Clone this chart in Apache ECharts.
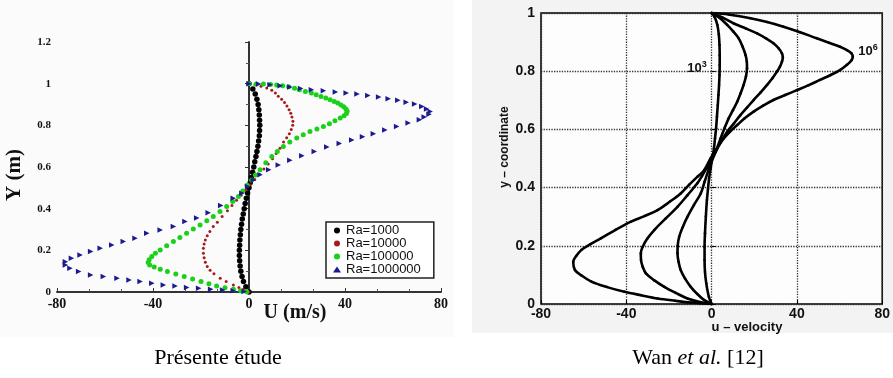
<!DOCTYPE html>
<html><head><meta charset="utf-8">
<script src="https://cdn.jsdelivr.net/npm/echarts@6/dist/echarts.min.js"></script>
<style>html,body{margin:0;padding:0;background:#fff}#c{width:893px;height:378px}</style>
</head><body><div id="c"></div><script>
// ---- Left panel (Présente étude): [U, Y] points ----
const leftNames = ['Ra=1000', 'Ra=10000', 'Ra=100000', 'Ra=1000000'];
const ra1000 = [[0,1.0],[1.6,0.975],[2.6,0.95],[3.3,0.925],[3.8,0.9],[4.1,0.875],[4.3,0.85],[4.4,0.825],[4.5,0.8],[4.4,0.775],[4.3,0.75],[4.0,0.725],[3.7,0.7],[3.3,0.675],[2.9,0.65],[2.4,0.625],[2.0,0.6],[1.5,0.575],[1.0,0.55],[0.5,0.525],[0,0.5],[-0.6,0.475],[-1.1,0.45],[-1.6,0.425],[-2.0,0.4],[-2.4,0.375],[-2.8,0.35],[-3.1,0.325],[-3.4,0.3],[-3.6,0.275],[-3.8,0.25],[-3.9,0.225],[-4.0,0.2],[-4.0,0.175],[-3.9,0.15],[-3.7,0.125],[-3.4,0.1],[-2.9,0.075],[-2.3,0.05],[-1.3,0.025],[0,0]];
const ra10000 = [[0,1.0],[2.5,0.995],[5,0.988],[7.4,0.979],[9.5,0.968],[11,0.955],[12.2,0.94],[13.6,0.925],[14.8,0.91],[15.8,0.893],[16.7,0.875],[17.4,0.858],[17.9,0.84],[18.3,0.82],[18.2,0.8],[17.6,0.78],[16.8,0.76],[15.7,0.74],[14.4,0.72],[12.9,0.69],[11.3,0.665],[9.8,0.64],[8.0,0.615],[6.2,0.59],[4.3,0.565],[2.4,0.54],[0.5,0.515],[-1.4,0.49],[-3.3,0.465],[-5.2,0.44],[-7.1,0.415],[-9.0,0.39],[-11.2,0.362],[-13.2,0.335],[-14.9,0.314],[-16.3,0.29],[-17.4,0.27],[-18.2,0.25],[-18.7,0.23],[-19.0,0.21],[-19.0,0.186],[-18.7,0.165],[-18.2,0.143],[-17.4,0.122],[-16.2,0.105],[-14.6,0.088],[-12,0.066],[-9.5,0.05],[-6.5,0.034],[-4.2,0.022],[-2.4,0.013],[-1,0.005],[0,0]];
const ra100000 = [[0,1.0],[3,0.999],[6,0.998],[9,0.996],[11.5,0.994],[14,0.99],[16.5,0.985],[19,0.978],[21,0.971],[23.5,0.963],[26,0.955],[28,0.947],[30,0.939],[32,0.931],[33.8,0.923],[35.5,0.915],[37,0.907],[38.3,0.898],[39.5,0.889],[40.4,0.879],[40.9,0.868],[40.6,0.857],[39.6,0.846],[38,0.835],[35.8,0.822],[33.5,0.808],[31,0.795],[28.3,0.783],[25.4,0.771],[22.6,0.755],[19.9,0.739],[17,0.72],[14.3,0.699],[11.8,0.675],[9.5,0.65],[7,0.62],[4.6,0.587],[2.7,0.562],[1.1,0.538],[-0.8,0.513],[-2.6,0.485],[-4.4,0.458],[-6.8,0.434],[-9.3,0.41],[-12.1,0.386],[-14.9,0.362],[-17.6,0.342],[-20.4,0.322],[-23.2,0.302],[-26,0.282],[-28.8,0.262],[-31.5,0.242],[-34.3,0.222],[-37,0.202],[-39,0.186],[-40.5,0.17],[-41.6,0.155],[-42,0.142],[-41.4,0.13],[-39.5,0.12],[-37,0.109],[-34,0.098],[-30.5,0.086],[-27,0.074],[-23.5,0.062],[-20,0.05],[-16.7,0.04],[-13.5,0.029],[-10,0.02],[-6.5,0.013],[-3.5,0.006],[-1,0.001]];
const ra1000000 = [[0,1.0],[4,0.998],[8.75,0.995],[13,0.99],[17,0.984],[21.5,0.977],[26,0.971],[31,0.966],[36,0.96],[40.5,0.955],[45,0.95],[49.5,0.943],[54,0.936],[58,0.928],[62,0.92],[65.5,0.911],[69,0.902],[72,0.891],[74,0.878],[75.5,0.866],[75,0.853],[73,0.84],[71,0.827],[66.3,0.811],[61.5,0.795],[56.6,0.778],[51.8,0.76],[47.3,0.745],[42.8,0.73],[37.6,0.713],[32.4,0.696],[27.2,0.675],[22,0.654],[17,0.632],[12.2,0.61],[8.2,0.587],[4.6,0.563],[1.8,0.538],[-0.6,0.506],[-3,0.474],[-6.6,0.45],[-11.8,0.415],[-17,0.38],[-21.8,0.355],[-26.7,0.338],[-31.5,0.315],[-37,0.298],[-42.6,0.282],[-47.5,0.258],[-52.4,0.242],[-57.2,0.226],[-62,0.21],[-66,0.194],[-70.4,0.178],[-74,0.162],[-76.5,0.145],[-76.5,0.13],[-74.6,0.114],[-71,0.098],[-66,0.082],[-60.7,0.074],[-55,0.066],[-50,0.058],[-45.4,0.05],[-40.5,0.042],[-35.7,0.034],[-30.8,0.029],[-26,0.022],[-21,0.018],[-16,0.013],[-11,0.01],[-6.6,0.006],[-2,0.002]];

// ---- Right panel (Wan et al.): [u, y] points ----
const wanNames = ['10^3', '10^4', '10^5', '10^6'];
const wan1e3 = [[0,1],[1.5,0.985],[2.7,0.959],[3.4,0.925],[3.7,0.89],[3.8,0.855],[3.8,0.821],[3.7,0.787],[3.5,0.753],[3.2,0.718],[2.9,0.684],[2.5,0.644],[2.1,0.604],[1.6,0.57],[1.1,0.535],[0.3,0.5],[-0.5,0.465],[-1.2,0.43],[-1.7,0.395],[-2.2,0.357],[-2.7,0.3],[-3.1,0.243],[-3.3,0.197],[-3.3,0.151],[-3.1,0.11],[-2.5,0.071],[-1.3,0.025],[0,0]];
const wan1e4 = [[0,1],[3.5,0.985],[7.3,0.959],[10.2,0.936],[12.7,0.913],[14.5,0.885],[15.9,0.856],[16.5,0.833],[16.6,0.81],[16.1,0.782],[15,0.753],[13.6,0.724],[12,0.695],[10,0.666],[8,0.638],[6,0.603],[4.2,0.569],[1.9,0.523],[0,0.49],[-1.5,0.46],[-3.3,0.42],[-5.1,0.38],[-8.3,0.34],[-11.3,0.3],[-13.5,0.265],[-15.2,0.231],[-15.9,0.2],[-16,0.174],[-15.5,0.145],[-14.5,0.117],[-12.5,0.088],[-9.8,0.059],[-6.8,0.035],[-3.6,0.014],[0,0]];
const wan1e5 = [[0,1],[5,0.985],[10.4,0.964],[16,0.947],[21.3,0.93],[25.5,0.913],[29,0.896],[31.5,0.878],[33,0.861],[33.4,0.847],[33,0.833],[32,0.815],[30.6,0.798],[28.5,0.776],[26,0.753],[23,0.727],[19.7,0.701],[16.6,0.675],[13.5,0.649],[10.4,0.62],[7.3,0.592],[4.8,0.563],[2.7,0.535],[0.3,0.5],[-2.5,0.465],[-4.5,0.44],[-6.7,0.415],[-11.3,0.374],[-16,0.334],[-21.5,0.294],[-26.9,0.254],[-30.2,0.224],[-32.3,0.197],[-33.2,0.174],[-33.1,0.151],[-32.3,0.128],[-30.8,0.105],[-27,0.082],[-22.2,0.059],[-16.8,0.038],[-11.3,0.019],[-5,0.006],[0,0]];
const wan1e6 = [[0,1],[8,0.995],[18.2,0.982],[26,0.969],[33.7,0.953],[41.5,0.934],[49.3,0.913],[55,0.898],[60.2,0.884],[63.5,0.872],[65.6,0.861],[66.2,0.85],[65.6,0.838],[63.5,0.822],[60.2,0.804],[55.8,0.787],[50.8,0.77],[45.5,0.752],[40,0.735],[34.5,0.718],[29,0.701],[24,0.681],[19.7,0.661],[15.5,0.638],[12,0.615],[8.6,0.592],[5.7,0.569],[3.5,0.546],[1.5,0.523],[-0.5,0.5],[-3.5,0.46],[-6.7,0.437],[-10.5,0.41],[-14.5,0.38],[-19.5,0.352],[-25.3,0.323],[-31.5,0.302],[-37.8,0.283],[-45,0.255],[-51.8,0.226],[-57,0.205],[-61,0.186],[-63.5,0.165],[-64.9,0.145],[-64.1,0.117],[-61,0.098],[-56.4,0.077],[-49,0.058],[-40.9,0.042],[-33,0.03],[-25.3,0.019],[-17,0.011],[-9.8,0.005],[0,0]];

// ---- tick labels ----
const xTickLabels = ['-80', '-40', '0', '40', '80'];
const leftYTickLabels = ['0', '0.2', '0.4', '0.6', '0.8', '1', '1.2'];
const rightYTickLabels = ['0', '0.2', '0.4', '0.6', '0.8', '1'];

const chart = echarts.init(document.getElementById('c'), null, {renderer: 'canvas'});
const serifB = {fontFamily: 'Liberation Serif', fontWeight: 'bold'};
const sansB = {fontFamily: 'Liberation Sans', fontWeight: 'bold'};
const xFmt = v => xTickLabels[Math.round((v + 80) / 40)];

const leftColors = ['#000000', '#a41c1c', '#19d119', '#1b1b8f'];
const leftData = [ra1000, ra10000, ra100000, ra1000000];
const leftSym = ['circle', 'circle', 'circle', 'triangle'];
const leftSize = [5.5, 3, 5, 5.5];

const series = [];
leftData.forEach((d, i) => series.push({
  name: leftNames[i], type: 'scatter', xAxisIndex: 0, yAxisIndex: 0, data: d,
  symbol: leftSym[i], symbolSize: leftSize[i], symbolRotate: i === 3 ? -90 : 0,
  itemStyle: {color: leftColors[i], opacity: 1}, z: 5 + i
}));
[wan1e3, wan1e4, wan1e5, wan1e6].forEach((d, i) => series.push({
  name: wanNames[i], type: 'line', xAxisIndex: 1, yAxisIndex: 1, data: d,
  smooth: 0.35, symbol: 'circle', symbolSize: 2.5, showSymbol: true,
  lineStyle: {color: '#000', width: 2.6}, itemStyle: {color: '#000'}, z: 5
}));

const dotted = {show: true, lineStyle: {color: '#333', width: 1.3, type: 'dotted'}};

chart.setOption({
  animation: false,
  backgroundColor: '#ffffff',
  grid: [
    {left: 57, right: 452, top: 42, bottom: 86},
    {left: 541, right: 9, top: 13, bottom: 74, show: true, borderColor: '#000', borderWidth: 1.5, backgroundColor: 'transparent'}
  ],
  xAxis: [
    {gridIndex: 0, type: 'value', min: -80, max: 80, interval: 40,
     axisLine: {show: true, lineStyle: {color: '#333', width: 2}},
     axisTick: {show: true, inside: true, length: 4, lineStyle: {color: '#333'}},
     minorTick: {show: true, splitNumber: 3, length: 3, lineStyle: {color: '#555'}},
     splitLine: {show: false},
     axisLabel: Object.assign({fontSize: 14, color: '#111', margin: 5, formatter: xFmt}, serifB)},
    {gridIndex: 1, type: 'value', min: -80, max: 80, interval: 40,
     axisLine: {show: false},
     axisTick: {show: true, inside: true, length: 4, lineStyle: {color: '#000'}},
     splitLine: dotted,
     axisLabel: Object.assign({fontSize: 14, color: '#111', margin: 3, formatter: xFmt}, sansB)}
  ],
  yAxis: [
    {gridIndex: 0, type: 'value', min: 0, max: 1.2, interval: 0.2,
     axisLine: {show: true, lineStyle: {color: '#333', width: 2}},
     axisTick: {show: true, inside: false, length: 4, lineStyle: {color: '#333'}},
     minorTick: {show: true, splitNumber: 2, length: 3, lineStyle: {color: '#555'}},
     splitLine: {show: false},
     axisLabel: Object.assign({fontSize: 11, color: '#111', margin: 6,
       formatter: v => leftYTickLabels[Math.round(v / 0.2)]}, serifB)},
    {gridIndex: 1, type: 'value', min: 0, max: 1, interval: 0.2,
     axisLine: {show: false},
     axisTick: {show: true, inside: true, length: 4, lineStyle: {color: '#000'}},
     splitLine: dotted,
     axisLabel: Object.assign({fontSize: 14, color: '#111', margin: 6,
       formatter: v => rightYTickLabels[Math.round(v / 0.2)]}, sansB)}
  ],
  legend: {
    data: leftNames, orient: 'vertical', left: 326, top: 222,
    backgroundColor: '#fff', borderColor: '#222', borderWidth: 1.5,
    padding: [2, 13, 2, 7], itemGap: 0, itemWidth: 8, itemHeight: 6,
    textStyle: {fontFamily: 'Liberation Sans', fontSize: 13, color: '#111', lineHeight: 10.5}
  },
  graphic: [
    {type: 'rect', z: -100, shape: {x: 0, y: 0, width: 454, height: 337}, style: {fill: '#fbfbfb'}, silent: true},
    {type: 'rect', z: -100, shape: {x: 472, y: 0, width: 421, height: 333}, style: {fill: '#f3f3f3'}, silent: true},
    {type: 'rect', z: -99, shape: {x: 541, y: 13, width: 343, height: 291}, style: {fill: '#fdfdfd'}, silent: true},
    {type: 'text', x: 295, y: 313, z: 100, style: Object.assign({text: 'U (m/s)', fontSize: 20, fill: '#111', align: 'center', verticalAlign: 'middle'}, serifB)},
    {type: 'text', x: 15, y: 175, rotation: Math.PI / 2, z: 100, style: Object.assign({text: 'Y (m)', fontSize: 21, fill: '#111', align: 'center', verticalAlign: 'middle'}, serifB)},
    {type: 'text', x: 747, y: 327, z: 100, style: Object.assign({text: 'u – velocity', fontSize: 13, fill: '#111', align: 'center', verticalAlign: 'middle'}, sansB)},
    {type: 'text', x: 505, y: 147, rotation: Math.PI / 2, z: 100, style: Object.assign({text: 'y – coordinate', fontSize: 12, fill: '#111', align: 'center', verticalAlign: 'middle'}, sansB)},
    {type: 'text', x: 697, y: 68, z: 100, style: {text: '{b|10}{s|3}', align: 'center', verticalAlign: 'middle',
      rich: {b: Object.assign({fontSize: 13, fill: '#111', lineHeight: 16}, sansB), s: Object.assign({fontSize: 9, fill: '#111', verticalAlign: 'top', lineHeight: 16, padding: [0, 0, 8, 0]}, sansB)}}},
    {type: 'text', x: 868, y: 51, z: 100, style: {text: '{b|10}{s|6}', align: 'center', verticalAlign: 'middle',
      rich: {b: Object.assign({fontSize: 13, fill: '#111', lineHeight: 16}, sansB), s: Object.assign({fontSize: 9, fill: '#111', verticalAlign: 'top', lineHeight: 16, padding: [0, 0, 8, 0]}, sansB)}}},
    {type: 'text', x: 218, y: 358, z: 100, style: {text: 'Présente étude', fontFamily: 'Liberation Serif', fontSize: 22, fill: '#000', align: 'center', verticalAlign: 'middle'}},
    {type: 'text', x: 698, y: 358, z: 100, style: {text: 'Wan {i|et al.} [12]', fontFamily: 'Liberation Serif', fontSize: 22, fill: '#000', align: 'center', verticalAlign: 'middle',
      rich: {i: {fontFamily: 'Liberation Serif', fontStyle: 'italic', fontSize: 22, fill: '#000'}}}}
  ],
  series: series
});
</script></body></html>
